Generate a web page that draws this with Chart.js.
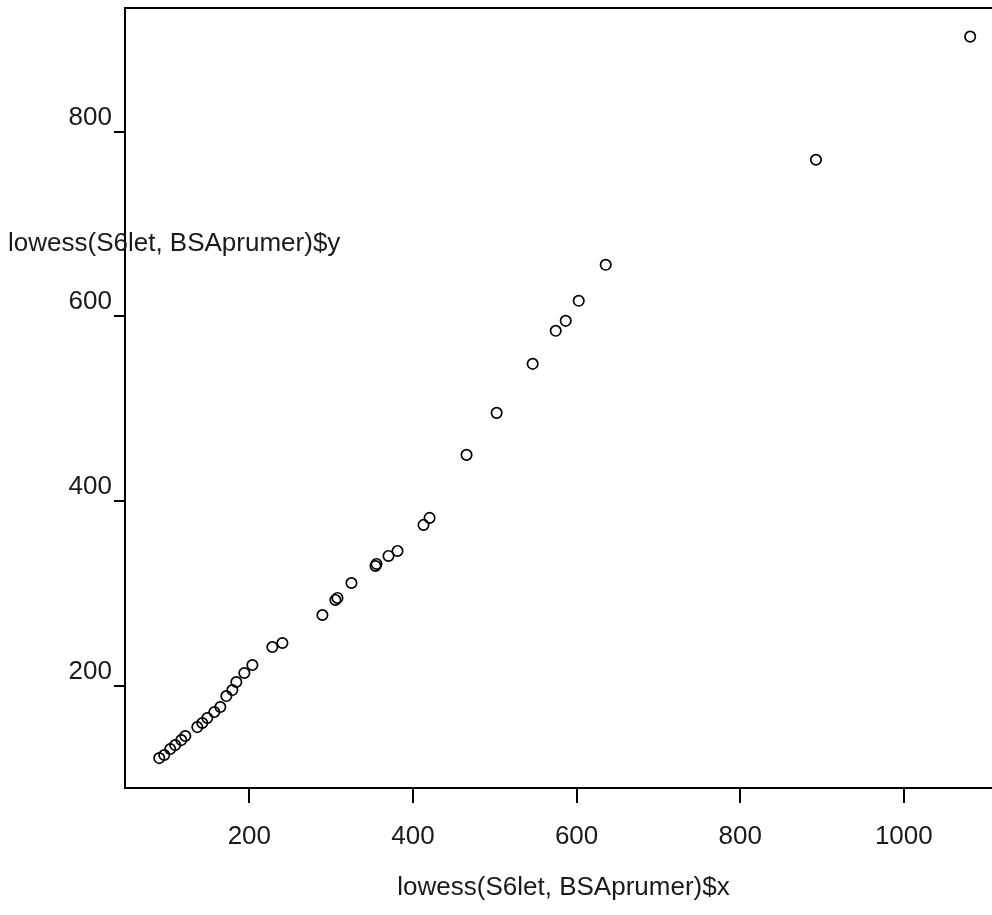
<!DOCTYPE html>
<html><head><meta charset="utf-8">
<script src="https://cdn.jsdelivr.net/npm/chart.js@4.4.1/dist/chart.umd.min.js"></script>
<style>
html,body{margin:0;padding:0;overflow:hidden;background:#fff;width:992px;height:915px}
#wrap{width:1010px;height:915px;position:relative}
canvas{display:block}
</style>
</head><body><div id="wrap"><canvas id="c" width="1010" height="915"></canvas></div>
<script>
const xValues=[89.9,96.0,103.3,109.4,116.8,121.7,136.4,142.5,148.6,157.2,164.5,171.9,179.2,184.1,193.9,203.7,228.1,240.4,289.3,305.2,307.7,324.8,354.2,355.4,370.1,381.1,412.9,420.3,465.5,502.3,546.3,574.5,586.7,602.6,635.6,892.6,1081.1];
const yValues=[121.4,124.7,131.2,135.5,140.9,145.3,155.0,159.4,164.8,171.3,176.7,188.6,195.1,203.8,213.6,222.2,241.7,246.1,276.4,292.7,294.9,311.1,329.5,331.7,340.4,345.8,374.0,381.6,449.9,495.4,548.5,584.3,595.1,616.8,655.8,769.6,903.0];
const xTicks=[200,400,600,800,1000];
const yTicks=[200,400,600,800];
const xTitle='lowess(S6let, BSAprumer)$x';
const yTitle='lowess(S6let, BSAprumer)$y';

const FONT={family:'"Liberation Sans", Arial, sans-serif',size:26};
const TXT='#1a1a1a';

const points=xValues.map((x,i)=>({x:x,y:yValues[i]}));

const framePlugin={
  id:'frame',
  afterDraw(chart){
    const {ctx,chartArea:a}=chart;
    ctx.save();
    ctx.strokeStyle='#000';
    ctx.lineWidth=2;
    ctx.beginPath();
    ctx.moveTo(a.left-1,a.top);
    ctx.lineTo(a.right,a.top);
    ctx.stroke();
    ctx.fillStyle=TXT;
    ctx.font=FONT.size+'px '+FONT.family;
    ctx.textBaseline='middle';
    ctx.textAlign='center';
    ctx.fillText(xTitle,(a.left+a.right)/2,888);
    ctx.textAlign='left';
    ctx.fillText(yTitle,8,244);
    ctx.restore();
  }
};

new Chart(document.getElementById('c'),{
  type:'scatter',
  data:{datasets:[{
    data:points,
    pointStyle:'circle',
    pointRadius:5.2,
    pointBorderWidth:1.7,
    pointBorderColor:'#000',
    pointBackgroundColor:'rgba(0,0,0,0)',
    showLine:false
  }]},
  options:{
    responsive:false,
    animation:false,
    devicePixelRatio:1,
    layout:{padding:{left:0,right:8,top:8,bottom:0}},
    plugins:{legend:{display:false},tooltip:{enabled:false}},
    scales:{
      x:{
        type:'linear',min:48,max:1120,
        afterBuildTicks:s=>{s.ticks=xTicks.map(v=>({value:v}));},
        afterFit:s=>{s.height=127;s.paddingLeft=0;s.paddingRight=0;},
        grid:{drawOnChartArea:false,drawTicks:true,tickLength:15,color:'#000',lineWidth:2},
        border:{display:true,color:'#000',width:2},
        ticks:{padding:18,font:FONT,color:TXT,autoSkip:false,maxRotation:0,callback:v=>String(v)}
      },
      y:{
        type:'linear',min:89,max:934,
        afterBuildTicks:s=>{s.ticks=yTicks.map(v=>({value:v}));},
        afterFit:s=>{s.width=125;s.paddingTop=0;s.paddingBottom=0;},
        grid:{drawOnChartArea:false,drawTicks:true,tickLength:11,color:'#000',lineWidth:2},
        border:{display:true,color:'#000',width:2},
        ticks:{padding:2,labelOffset:-14,font:FONT,color:TXT,autoSkip:false,callback:v=>String(v)}
      }
    }
  },
  plugins:[framePlugin]
});
</script>
</body></html>
